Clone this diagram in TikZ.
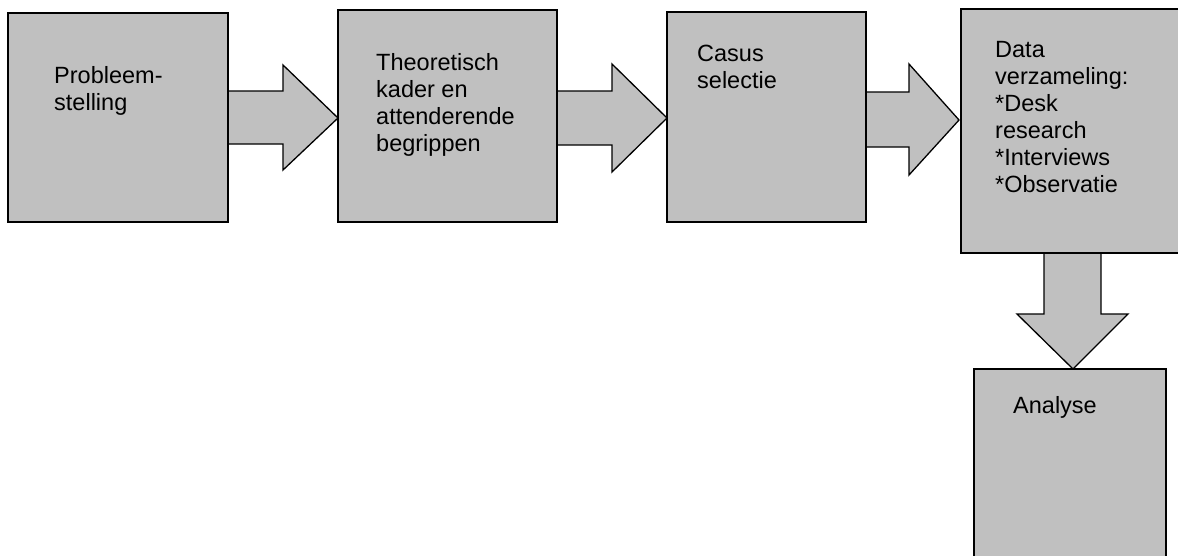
\documentclass[tikz,border=0pt]{standalone}
\usepackage{fontspec}
\setmainfont{Liberation Sans}
\usetikzlibrary{positioning}
\definecolor{boxgray}{HTML}{C0C0C0}
\tikzset{
  box/.style={fill=boxgray, draw=black, line width=1.6pt},
  blockarrow/.style={fill=boxgray, draw=black, line width=1.3pt, line join=miter},
  boxtext/.style={anchor=north west, inner sep=0pt, align=left,
    font=\fontsize{23.5}{27}\selectfont}
}

\begin{document}
\begin{tikzpicture}[x=1pt, y=-1pt]
			%%%%% START %%%%%
			\clip (0, 0) rectangle (1178, 555);
			
			% block arrows between the steps
			\draw[blockarrow] (228, 91) -- (283, 91) -- (283, 65) -- (338, 118) -- (283, 170) -- (283, 144) -- (228, 144);
			\draw[blockarrow] (557, 91) -- (612, 91) -- (612, 64) -- (667, 118) -- (612, 172) -- (612, 145) -- (557, 145);
			\draw[blockarrow] (866, 92) -- (909, 92) -- (909, 64) -- (959, 120) -- (909, 175) -- (909, 147) -- (866, 147);
			\draw[blockarrow] (1044, 253) -- (1044, 314) -- (1017, 314) -- (1073, 369) -- (1128, 314) -- (1101, 314) -- (1101, 253);
			
			% steps
			\draw[box] (8, 13) rectangle (228, 222);
			\draw[box] (338, 10) rectangle (557, 222);
			\draw[box] (667, 12) rectangle (866, 222);
			\draw[box] (961, 9) rectangle (1182, 253);
			\draw[box] (974, 369) rectangle (1166, 562);
			
			\node[boxtext] (probleem) at (54, 66) {Probleem-\\stelling};
			\node[boxtext] (kader) at (376, 53) {Theoretisch\\kader en\\attenderende\\begrippen};
			\node[boxtext] (casus) at (697, 45) {Casus\\selectie};
			\node[boxtext] (data) at (995, 41) {Data\\verzameling:\\*Desk\\research\\*Interviews\\*Observatie};
			\node[boxtext] (analyse) at (1013, 396) {Analyse};
			
			%%%%% END %%%%%
\end{tikzpicture}
\end{document}
